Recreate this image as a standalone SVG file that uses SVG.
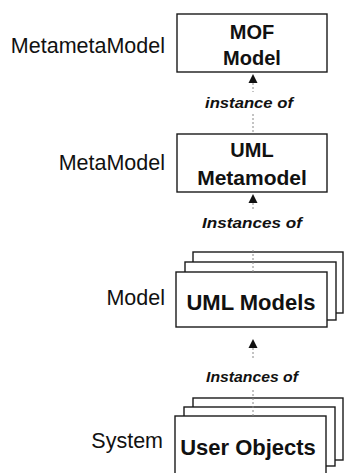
<svg xmlns="http://www.w3.org/2000/svg" width="345" height="473" viewBox="0 0 345 473">
  <defs>
    <style>
      .box { fill: #fff; stroke: #1a1a1a; stroke-width: 1.4; }
      .lvl { font-family: "Liberation Sans", Arial, sans-serif; font-size: 21.5px; fill: #111; text-anchor: end; }
      .name { font-family: "Liberation Sans", Arial, sans-serif; font-weight: bold; fill: #111; text-anchor: middle; }
      .rel { font-family: "Liberation Sans", Arial, sans-serif; font-weight: bold; font-style: italic; font-size: 15px; fill: #111; text-anchor: middle; }
      .conn { stroke: #888; stroke-width: 1; stroke-dasharray: 2 2; fill: none; }
      .head { fill: #111; }
    </style>
  </defs>
  <rect width="345" height="473" fill="#fff"/>

  <g id="label-metametamodel"><text class="lvl" x="165" y="53">MetametaModel</text></g>
  <g id="label-metamodel"><text class="lvl" x="165" y="170">MetaModel</text></g>
  <g id="label-model"><text class="lvl" x="165" y="305">Model</text></g>
  <g id="label-system"><text class="lvl" x="163" y="448">System</text></g>

  <g id="mof-model">
    <rect class="box" x="177" y="14" width="150" height="58"/>
    <text class="name" x="252" y="39" font-size="20">MOF</text>
    <text class="name" x="252" y="65" font-size="20">Model</text>
  </g>

  <g id="uml-metamodel">
    <rect class="box" x="177" y="134" width="150" height="58"/>
    <text class="name" x="252" y="157" font-size="20">UML</text>
    <text class="name" x="252" y="185" font-size="21">Metamodel</text>
  </g>

  <g id="uml-models">
    <rect class="box" x="193" y="252" width="150" height="61"/>
    <rect class="box" x="185" y="262" width="151" height="58"/>
    <rect class="box" x="176" y="272" width="151" height="55"/>
    <text class="name" x="251" y="310" font-size="22">UML Models</text>
  </g>

  <g id="user-objects">
    <rect class="box" x="193" y="398" width="150" height="62"/>
    <rect class="box" x="184" y="407" width="151" height="59"/>
    <rect class="box" x="175" y="416" width="151" height="70"/>
    <text class="name" x="248" y="455" font-size="22">User Objects</text>
  </g>

  <g id="connectors">
    <line class="conn" x1="253" y1="83" x2="253" y2="92"/>
    <line class="conn" x1="253" y1="114" x2="253" y2="134"/>
    <polygon class="head" points="253,74 248.5,83 257.5,83"/>
    <text class="rel" x="249" y="108" textLength="88" lengthAdjust="spacingAndGlyphs">instance of</text>

    <line class="conn" x1="253" y1="203" x2="253" y2="210"/>
    <line class="conn" x1="253" y1="250" x2="253" y2="272"/>
    <polygon class="head" points="253,194 248.5,203 257.5,203"/>
    <text class="rel" x="252" y="228" textLength="100" lengthAdjust="spacingAndGlyphs">Instances of</text>

    <line class="conn" x1="253" y1="348" x2="253" y2="360"/>
    <line class="conn" x1="253" y1="390" x2="253" y2="416"/>
    <polygon class="head" points="253,339 248.5,348 257.5,348"/>
    <text class="rel" x="252" y="382" textLength="92" lengthAdjust="spacingAndGlyphs">Instances of</text>
  </g>
</svg>
